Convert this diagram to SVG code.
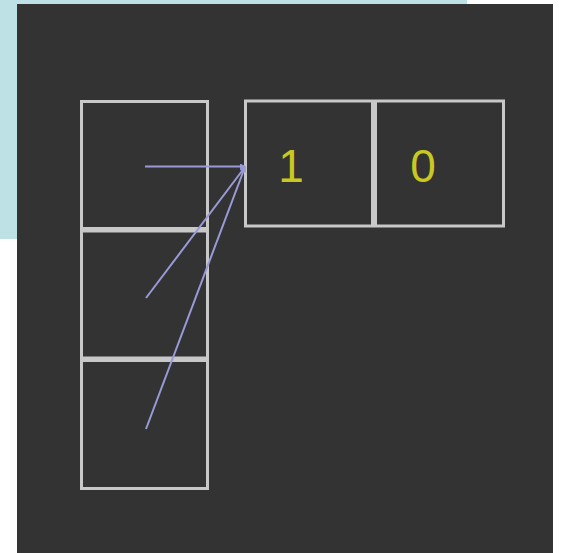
<svg xmlns="http://www.w3.org/2000/svg" width="562" height="553" viewBox="0 0 562 553">
<style>
.cell{fill:none;stroke:#c8c8c8;stroke-width:3}
.lbl{font-family:"Liberation Sans",Arial,sans-serif;font-size:46px;fill:#c8c820;text-anchor:middle}
.conn{stroke:#9a9ad8;stroke-width:2;fill:none;marker-end:url(#ah)}
</style>
<defs>
<marker id="ah" viewBox="0 0 6 6" refX="5" refY="3" markerWidth="3" markerHeight="3" orient="auto" markerUnits="strokeWidth">
<path d="M0,0 L6,3 L0,6 z" fill="#9a9ad8"/>
</marker>
</defs>
<rect x="0" y="0" width="562" height="553" fill="#ffffff"/>
<rect x="0" y="0" width="467" height="239" fill="#bde1e4"/>
<rect x="17" y="4" width="536" height="549" fill="#333333"/>
<g id="stack0"><rect class="cell" x="81.5" y="101.5" width="126" height="127"/></g>
<g id="stack1"><rect class="cell" x="81.5" y="231" width="126" height="127"/></g>
<g id="stack2"><rect class="cell" x="81.5" y="360.5" width="126" height="128"/></g>
<g id="pair0"><rect class="cell" x="245.5" y="101" width="127" height="125"/><text class="lbl" x="291" y="182">1</text></g>
<g id="pair1"><rect class="cell" x="375.5" y="101" width="128" height="125"/><text class="lbl" x="423" y="182">0</text></g>
<g id="connectors">
<line class="conn" x1="145" y1="166.5" x2="245" y2="166.5"/>
<line class="conn" x1="146" y1="298" x2="245" y2="167"/>
<line class="conn" x1="146" y1="429" x2="245" y2="167"/>
</g>
</svg>
